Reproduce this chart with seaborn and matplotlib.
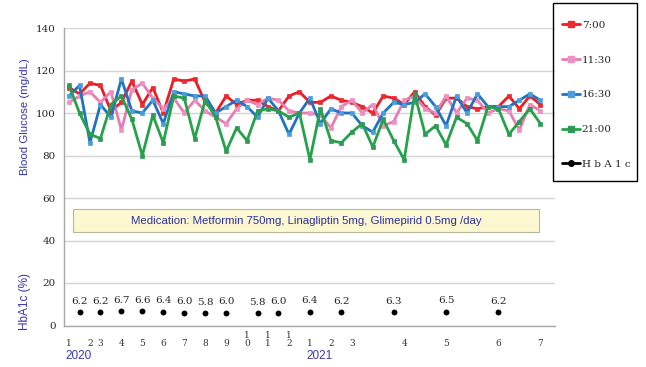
import numpy as np
import pandas as pd
import matplotlib
matplotlib.use('Agg')
import matplotlib.pyplot as plt
import matplotlib.transforms as mtransforms
from matplotlib.lines import Line2D
from matplotlib.patches import Rectangle
import seaborn as sns

# glucose readings, one value per point on the x axis (46 points)
bg_0700 = [112, 109, 114, 113, 101, 105, 115, 104, 112, 100, 116, 115, 116, 105, 100, 108,
           104, 106, 106, 103, 101, 108, 110, 105, 105, 108, 106, 105, 103, 100, 108, 107,
           104, 110, 103, 99, 107, 107, 103, 102, 103, 103, 108, 102, 108, 104]
bg_1130 = [105, 108, 110, 105, 110, 92, 111, 114, 107, 102, 107, 100, 106, 101, 98, 95,
           102, 106, 104, 107, 106, 101, 100, 100, 99, 93, 103, 106, 100, 104, 94, 96,
           106, 108, 102, 100, 108, 100, 107, 106, 100, 102, 101, 92, 104, 101]
bg_1630 = [108, 113, 86, 104, 98, 116, 101, 100, 106, 95, 110, 109, 108, 108, 100, 103,
           106, 103, 98, 107, 101, 90, 100, 107, 95, 102, 100, 100, 94, 91, 100, 105,
           104, 105, 109, 103, 94, 108, 100, 109, 103, 103, 103, 106, 109, 106]
bg_2100 = [113, 100, 90, 88, 104, 108, 97, 80, 99, 86, 108, 107, 88, 106, 98, 82,
           93, 87, 101, 102, 101, 98, 100, 78, 102, 87, 86, 91, 95, 84, 97, 87,
           78, 109, 90, 94, 85, 98, 95, 87, 103, 102, 90, 96, 102, 95]

hba1c_idx = [1, 3, 5, 7, 9, 11, 13, 15, 18, 20, 23, 26, 31, 36, 41]
hba1c_val = [6.2, 6.2, 6.7, 6.6, 6.4, 6.0, 5.8, 6.0, 5.8, 6.0, 6.4, 6.2, 6.3, 6.5, 6.2]

month_idx = [0, 2, 3, 5, 7, 9, 11, 13, 15, 17, 19, 21, 23, 25, 27, 32, 36, 41, 45]
month_lbl = ['1', '2', '3', '4', '5', '6', '7', '8', '9', '1\n0', '1\n1', '1\n2',
             '1', '2', '3', '4', '5', '6', '7']
year_idx = [-0.3, 22.7]
year_lbl = ['2020', '2021']

series_names = ['7:00', '11:30', '16:30', '21:00']
line_colors = ['#ec1c24', '#e67db2', '#1f74c0', '#25a24a']
mark_colors = ['#ee2a30', '#ee90c0', '#4c9ddc', '#2f9a58']

med_text = 'Medication: Metformin 750mg, Linagliptin 5mg, Glimepirid 0.5mg /day'

sns.set_style('white')
plt.rcParams['font.family'] = ['DejaVu Sans']

x = np.arange(len(bg_0700))
df = pd.DataFrame({'idx': x, '7:00': bg_0700, '11:30': bg_1130,
                   '16:30': bg_1630, '21:00': bg_2100})
df = df.melt(id_vars='idx', var_name='time', value_name='glucose')

fig = plt.figure(figsize=(6.46, 3.67), dpi=100)
ax = fig.add_axes([64 / 646, 1 - 325.5 / 367, 491 / 646, 297.5 / 367])

for name, lc, mc in zip(series_names, line_colors, mark_colors):
    sub = df[df['time'] == name]
    sns.lineplot(data=sub, x='idx', y='glucose', ax=ax, color=lc, linewidth=2,
                 marker='s', markersize=3.5, markerfacecolor=mc, markeredgecolor=mc,
                 markeredgewidth=0.5, legend=False, zorder=3)

sns.scatterplot(x=hba1c_idx, y=hba1c_val, ax=ax, color='black', s=18,
                edgecolor='black', linewidth=0, zorder=4, legend=False)
for xi, v in zip(hba1c_idx, hba1c_val):
    ax.annotate(f'{v:.1f}', (xi, v), xytext=(0, 8), textcoords='offset points',
                ha='center', va='center', fontsize=7.5, family='DejaVu Serif')

ax.set_xlim(-0.48, 46.4)
ax.set_ylim(0, 140)
ax.set_yticks(np.arange(0, 141, 20))
ax.yaxis.grid(True, color='#d4d4d4', linewidth=1)
ax.set_axisbelow(True)
for s in ['top', 'right']:
    ax.spines[s].set_visible(False)
for s in ['left', 'bottom']:
    ax.spines[s].set_color('#a8a8a8')
    ax.spines[s].set_linewidth(1)
ax.set_xticks(x)
ax.set_xticklabels([])
ax.tick_params(axis='x', length=3, color='#a8a8a8', width=0.8)
ax.tick_params(axis='y', length=3, color='#a8a8a8', width=0.8, pad=3, labelsize=7.5)
for lab in ax.get_yticklabels():
    lab.set_family('DejaVu Serif')
ax.set_xlabel('')
ax.set_ylabel('')

trans = mtransforms.blended_transform_factory(ax.transData, ax.transAxes)
for xi, lbl in zip(month_idx, month_lbl):
    ax.text(xi, -0.075, lbl, transform=trans, ha='center', va='bottom', fontsize=6.5,
            family='DejaVu Serif', linespacing=0.85, color='#333333')
for xi, lbl in zip(year_idx, year_lbl):
    ax.text(xi, -0.102, lbl, transform=trans, ha='left', va='center', fontsize=8.5,
            color='#3a3aa6', family='Liberation Sans')

# medication box
btrans = mtransforms.blended_transform_factory(ax.transAxes, ax.transData)
ax.add_patch(Rectangle((0.018, 44), 0.949, 10.8, transform=btrans, facecolor='#fbf8d2',
                       edgecolor='#b8b89a', linewidth=0.8, zorder=2))
ax.text(0.4925, 49.4, med_text, transform=btrans, ha='center', va='center',
        fontsize=8.2, color='#2e2ea0', family='Liberation Sans', zorder=3)

fig.text(25 / 646, 1 - 117 / 367, 'Blood Glucose (mg/dL)', rotation=90, ha='center',
         va='center', fontsize=8.2, color='#3535a8', family='Liberation Sans')
fig.text(25 / 646, 1 - 302 / 367, 'HbA1c (%)', rotation=90, ha='center',
         va='center', fontsize=8.5, color='#3535a8', family='Liberation Sans')

# legend with its own frame
fig.add_artist(Rectangle((553 / 646, 1 - 181 / 367), 84 / 646, 178 / 367,
                         transform=fig.transFigure, fill=False, edgecolor='black', lw=1))
handles = [Line2D([], [], color=lc, lw=2, marker='s', ms=4, mfc=mc, mec=mc)
           for lc, mc in zip(line_colors, mark_colors)]
handles.append(Line2D([], [], color='black', lw=2, marker='o', ms=4))
labels = series_names + ['H b A 1 c']
fig.legend(handles, labels, loc='upper left', bbox_to_anchor=(562 / 646, 1 - 20.5 / 367),
           frameon=False, borderaxespad=0, borderpad=0,
           prop={'family': 'DejaVu Serif', 'size': 7.5}, labelspacing=2.45,
           handlelength=1.7, handletextpad=0.2)

fig.savefig('out.png', dpi=100)
